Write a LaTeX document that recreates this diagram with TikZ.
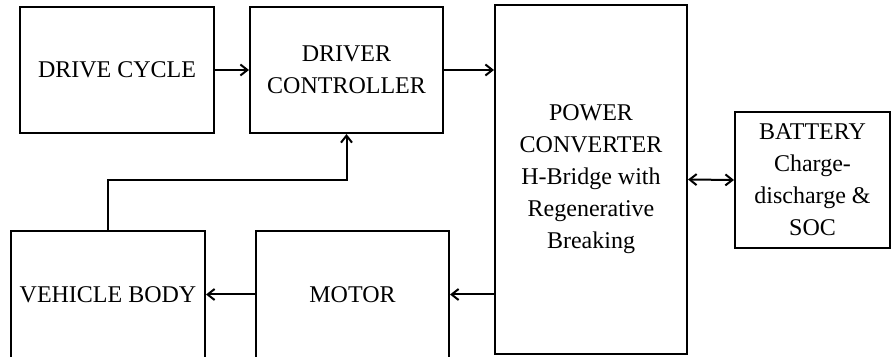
\documentclass[tikz,border=0pt]{standalone}
\usepackage{fontspec}
\setmainfont{Liberation Serif}
\usepackage{tikz}
\usetikzlibrary{
  arrows.meta,
  positioning
}

\begin{document}
\begin{tikzpicture}[
  x=1pt, y=1pt,
  font=\fontsize{24}{32}\selectfont,
  >={Straight Barb[length=7pt,width=11pt]},
  block/.style={draw, line width=2pt, fill=white, align=center,
                minimum width=#1, inner sep=2pt},
  arr/.style={->, line width=2pt},
]
  \useasboundingbox (0,0) rectangle (891,356);

  % top row
  \node[block=194pt, minimum height=126pt] (cycle) at (117,286) {DRIVE CYCLE};
  \node[block=193pt, minimum height=126pt] (drv) at (346.5,286) {DRIVER\\CONTROLLER};

  % converter and battery
  \node[block=192pt, minimum height=349pt] (conv) at (591,176.5)
    {POWER\\CONVERTER\\H-Bridge with\\Regenerative\\Breaking};
  \node[block=155pt, minimum height=136pt] (batt) at (812.5,176)
    {BATTERY\\Charge-\\discharge \&\\SOC};

  % bottom row
  \node[block=194pt, minimum height=127pt] (body) at (108,61.5) {VEHICLE BODY};
  \node[block=193pt, minimum height=127pt] (motor) at (352.5,61.5) {MOTOR};

  \draw[arr] (cycle.east) -- (drv.west);
  \draw[arr] (drv.east) -- (drv.east -| conv.west);
  \draw[{Straight Barb[length=7pt,width=11pt]}-{Straight Barb[length=7pt,width=11pt]}, line width=2pt]
    (conv.east) -- (batt.west);
  \draw[arr] (motor.east -| conv.west) -- (motor.east);
  \draw[arr] (motor.west) -- (body.east);
  \draw[arr] (body.north) -- ++(0,50) -| (drv.south);
\end{tikzpicture}
\end{document}
